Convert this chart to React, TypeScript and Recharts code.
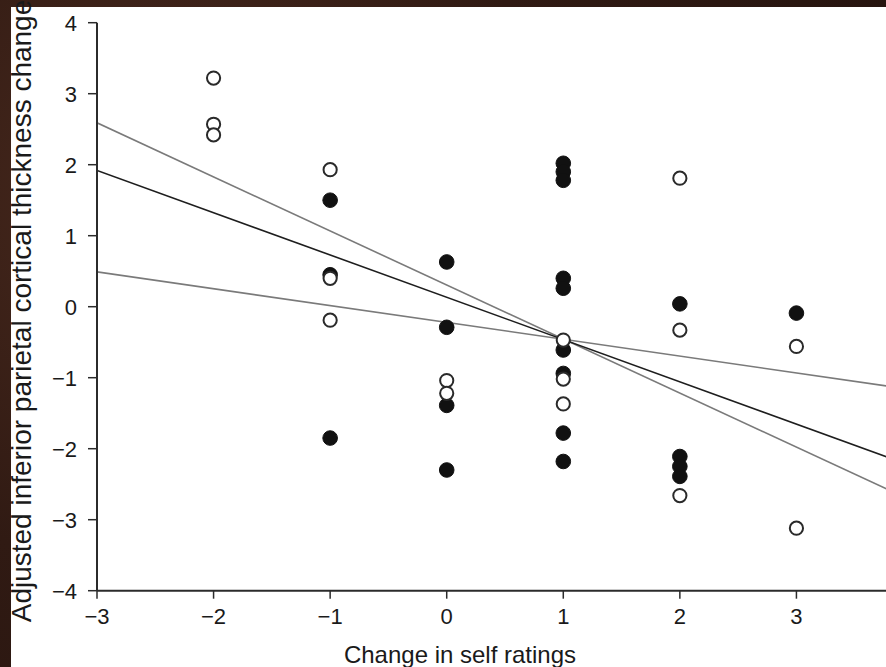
import React from "react";
import { ComposedChart, XAxis, YAxis, Line, Scatter, Label } from "recharts";

// Tick labels
const xTicks = [-3, -2, -1, 0, 1, 2, 3];
const yTicks = [-4, -3, -2, -1, 0, 1, 2, 3, 4];

// Filled-circle subjects
const filledX = [-1, -1, -1, 0, 0, 0, 0, 1, 1, 1, 1, 1, 1, 1, 1, 1, 2, 2, 2, 2, 3];
const filledY = [1.5, 0.45, -1.85, 0.63, -0.29, -1.39, -2.3, 2.02, 1.9, 1.78, 0.4, 0.26, -0.61, -0.94, -1.78, -2.18, 0.04, -2.11, -2.25, -2.39, -0.09];

// Open-circle subjects
const openX = [-2, -2, -2, -1, -1, -1, 0, 0, 1, 1, 1, 2, 2, 2, 3, 3];
const openY = [3.22, 2.57, 2.42, 1.93, 0.4, -0.19, -1.04, -1.22, -0.47, -1.02, -1.37, 1.81, -0.33, -2.66, -0.56, -3.12];

// Regression lines (endpoints)
const lineX = [-3, 4];
const fitAll = [1.92, -2.25];
const fitSteep = [2.59, -2.74];
const fitShallow = [0.49, -1.17];

const toPts = (xs: number[], ys: number[]) => xs.map((x, i) => ({ x, y: ys[i] }));
const filledData = toPts(filledX, filledY);
const openData = toPts(openX, openY);
const allLine = toPts(lineX, fitAll);
const steepLine = toPts(lineX, fitSteep);
const shallowLine = toPts(lineX, fitShallow);

const FONT = '"Liberation Sans", Arial, Helvetica, sans-serif';
const fmt = (v: number) => String(v).replace("-", "\u2212");

const FilledDot = (p: any) => <circle cx={p.cx} cy={p.cy} r={7.3} fill="#111" stroke="#111" strokeWidth={1} />;
const OpenDot = (p: any) => <circle cx={p.cx} cy={p.cy} r={6.6} fill="#fff" stroke="#2a2a2a" strokeWidth={2} />;

export default function App() {
  return (
    <div
      style={{
        position: "absolute",
        left: 0,
        top: 0,
        width: 886,
        height: 667,
        overflow: "hidden",
        background:
          "radial-gradient(circle at 20% 30%, #4a2a1e 0%, #301a13 45%, #24130e 100%)",
      }}
    >
      <div style={{ position: "absolute", left: 11, top: 7, width: 875, height: 660, background: "#fff" }} />
      <div style={{ position: "absolute", left: 0, top: 0 }}>
        <ComposedChart width={923} height={667} margin={{ top: 22.7, right: 10, bottom: 36.3, left: 37 }}>
          <XAxis
            type="number"
            dataKey="x"
            domain={[-3, 4]}
            ticks={xTicks}
            tickFormatter={fmt}
            height={40}
            axisLine={{ stroke: "#2b2b2b", strokeWidth: 2 }}
            tickLine={{ stroke: "#2b2b2b", strokeWidth: 1.5 }}
            tickSize={8}
            tickMargin={10}
            tick={{ fill: "#1a1a1a", fontSize: 22, fontFamily: FONT }}
            allowDataOverflow
          >
            <Label
              content={() => (
                <text x={460} y={663} textAnchor="middle" fill="#1a1a1a" fontSize={24} fontFamily={FONT}>
                  Change in self ratings
                </text>
              )}
            />
          </XAxis>
          <YAxis
            type="number"
            dataKey="y"
            domain={[-4, 4]}
            ticks={yTicks}
            tickFormatter={fmt}
            width={60}
            axisLine={{ stroke: "#2b2b2b", strokeWidth: 2 }}
            tickLine={{ stroke: "#2b2b2b", strokeWidth: 1.5 }}
            tickSize={9}
            tickMargin={11}
            tick={{ fill: "#1a1a1a", fontSize: 22, fontFamily: FONT }}
            allowDataOverflow
          >
            <Label
              content={() => (
                <text
                  transform="translate(31,311) rotate(-90)"
                  textAnchor="middle"
                  fill="#1a1a1a"
                  fontSize={28}
                  fontFamily={FONT}
                >
                  Adjusted inferior parietal cortical thickness change
                </text>
              )}
            />
          </YAxis>
          <Line data={steepLine} dataKey="y" stroke="#7a7a7a" strokeWidth={1.6} dot={false} isAnimationActive={false} />
          <Line data={shallowLine} dataKey="y" stroke="#7a7a7a" strokeWidth={1.6} dot={false} isAnimationActive={false} />
          <Line data={allLine} dataKey="y" stroke="#1e1e1e" strokeWidth={1.6} dot={false} isAnimationActive={false} />
          <Scatter data={filledData} dataKey="y" shape={FilledDot} isAnimationActive={false} />
          <Scatter data={openData} dataKey="y" shape={OpenDot} isAnimationActive={false} />
        </ComposedChart>
      </div>
    </div>
  );
}
